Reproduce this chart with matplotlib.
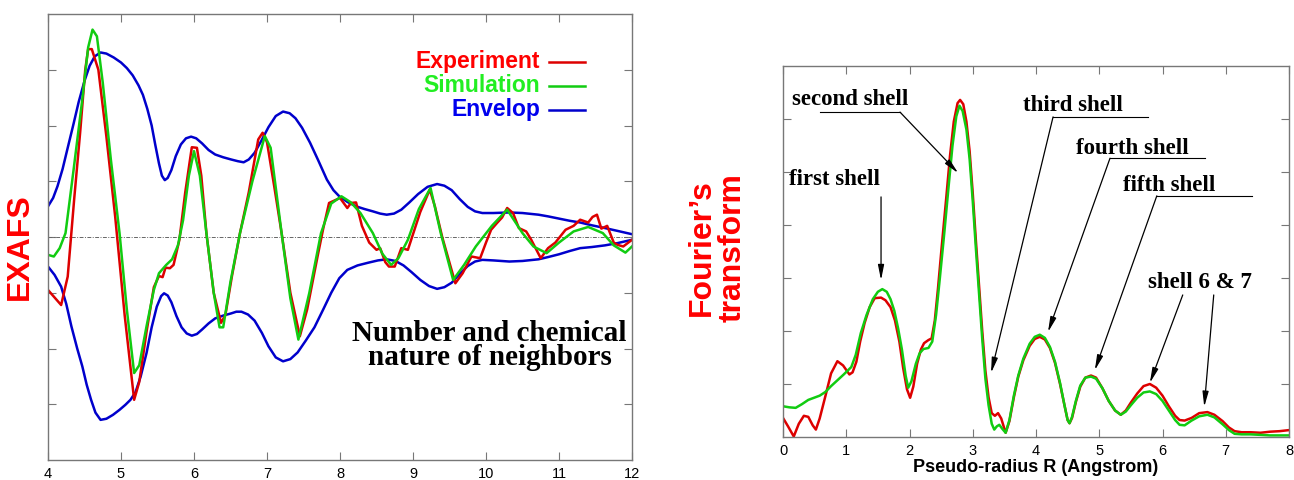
import numpy as np
import matplotlib.pyplot as plt

plt.rcParams.update({
    "font.family": "Liberation Sans",
    "xtick.labelsize": 10.5,
    "ytick.labelsize": 10.5,
})

# --- Left panel: EXAFS oscillations (k, arbitrary units) ---
exp_k = [4.00, 4.10, 4.18, 4.27, 4.36, 4.44, 4.51, 4.55, 4.60, 4.69, 4.80, 4.92, 5.05, 5.18,
         5.25, 5.35, 5.45, 5.52, 5.57, 5.61, 5.67, 5.72, 5.80, 5.88, 5.97, 6.04, 6.10, 6.17,
         6.27, 6.37, 6.43, 6.52, 6.63, 6.75, 6.88, 6.94, 7.00, 7.10, 7.20, 7.32, 7.45, 7.55,
         7.70, 7.77, 7.85, 8.00, 8.10, 8.15, 8.22, 8.30, 8.40, 8.50, 8.55, 8.62, 8.67, 8.75,
         8.84, 8.93, 9.02, 9.10, 9.23, 9.30, 9.40, 9.58, 9.68, 9.80, 9.92, 10.00, 10.07,
         10.15, 10.22, 10.29, 10.37, 10.45, 10.55, 10.62, 10.75, 10.85, 10.95, 11.09, 11.20,
         11.29, 11.40, 11.46, 11.52, 11.58, 11.66, 11.75, 11.80, 11.88, 12.00]
exp_chi = [-0.95, -1.10, -1.22, -0.71, 0.70, 1.87, 3.00, 3.37, 3.37, 3.00, 1.80, 0.37, -1.40,
           -2.92, -2.60, -1.70, -0.90, -0.70, -0.72, -0.55, -0.56, -0.50, -0.05, 0.80, 1.61,
           1.60, 1.10, 0.07, -1.00, -1.54, -1.40, -0.70, 0.07, 0.80, 1.75, 1.87, 1.70, 0.90,
           0.07, -1.00, -1.78, -1.30, -0.30, 0.15, 0.61, 0.70, 0.52, 0.61, 0.62, 0.20, -0.10,
           -0.23, -0.20, -0.45, -0.53, -0.53, -0.20, -0.23, 0.13, 0.45, 0.85, 0.55, 0.00,
           -0.83, -0.65, -0.35, -0.38, -0.10, 0.13, 0.25, 0.35, 0.52, 0.43, 0.16, 0.10, -0.05,
           -0.38, -0.20, -0.10, 0.13, 0.20, 0.31, 0.26, 0.36, 0.40, 0.15, 0.20, -0.10, -0.14,
           -0.17, -0.05]

sim_k = [4.00, 4.08, 4.16, 4.24, 4.35, 4.47, 4.55, 4.61, 4.67, 4.75, 4.86, 4.98, 5.08, 5.18,
         5.25, 5.35, 5.45, 5.52, 5.62, 5.70, 5.78, 5.85, 5.93, 6.00, 6.08, 6.17, 6.27, 6.35,
         6.40, 6.50, 6.63, 6.80, 6.97, 7.05, 7.20, 7.32, 7.43, 7.58, 7.74, 7.88, 8.02, 8.15,
         8.28, 8.45, 8.58, 8.70, 8.80, 8.93, 9.08, 9.24, 9.38, 9.55, 9.70, 9.86, 10.08, 10.29,
         10.50, 10.65, 10.83, 11.00, 11.20, 11.40, 11.60, 11.75, 11.91, 12.00]
sim_chi = [-0.32, -0.35, -0.20, 0.07, 1.20, 2.47, 3.40, 3.72, 3.60, 2.77, 1.40, 0.07, -1.30,
           -2.44, -2.30, -1.60, -0.95, -0.65, -0.50, -0.40, -0.15, 0.30, 1.10, 1.54, 1.10,
           0.07, -1.00, -1.62, -1.62, -0.80, 0.07, 1.00, 1.81, 1.60, 0.07, -1.10, -1.84,
           -1.00, 0.07, 0.60, 0.73, 0.62, 0.43, 0.07, -0.30, -0.50, -0.38, -0.05, 0.50, 0.88,
           0.07, -0.77, -0.50, -0.17, 0.20, 0.49, 0.07, -0.17, -0.29, -0.10, 0.10, 0.18, 0.07,
           -0.15, -0.28, -0.17]

env_hi_k = [4.00, 4.07, 4.13, 4.20, 4.27, 4.35, 4.42, 4.50, 4.57, 4.64, 4.72, 4.80, 4.90,
            5.00, 5.08, 5.16, 5.24, 5.30, 5.36, 5.42, 5.47, 5.52, 5.56, 5.60, 5.64, 5.69,
            5.75, 5.82, 5.89, 5.96, 6.03, 6.11, 6.20, 6.29, 6.40, 6.51, 6.60, 6.68, 6.75,
            6.83, 6.92, 7.02, 7.12, 7.22, 7.31, 7.39, 7.48, 7.59, 7.70, 7.82, 7.91, 7.99,
            8.10, 8.22, 8.34, 8.45, 8.55, 8.64, 8.74, 8.84, 8.95, 9.07, 9.20, 9.33, 9.43,
            9.53, 9.64, 9.75, 9.85, 9.95, 10.10, 10.32, 10.50, 10.72, 10.85, 11.00, 11.15,
            11.29, 11.45, 11.63, 11.80, 12.00]
env_hi = [0.55, 0.70, 0.91, 1.22, 1.60, 2.03, 2.42, 2.80, 3.07, 3.24, 3.31, 3.29, 3.22,
          3.13, 3.03, 2.90, 2.72, 2.55, 2.30, 2.00, 1.65, 1.32, 1.10, 1.02, 1.06, 1.20,
          1.45, 1.66, 1.77, 1.80, 1.77, 1.68, 1.56, 1.48, 1.43, 1.39, 1.36, 1.34, 1.39,
          1.51, 1.72, 1.97, 2.17, 2.25, 2.22, 2.13, 1.96, 1.69, 1.38, 1.03, 0.84, 0.73,
          0.63, 0.55, 0.50, 0.46, 0.42, 0.40, 0.42, 0.49, 0.62, 0.77, 0.90, 0.95, 0.92,
          0.84, 0.68, 0.54, 0.46, 0.43, 0.43, 0.44, 0.43, 0.40, 0.37, 0.33, 0.29,
          0.26, 0.21, 0.16, 0.11, 0.05]

env_lo_k = [4.00, 4.09, 4.18, 4.25, 4.32, 4.40, 4.47, 4.53, 4.59, 4.65, 4.72, 4.80, 4.89,
            4.98, 5.06, 5.13, 5.20, 5.27, 5.35, 5.42, 5.49, 5.55, 5.59, 5.64, 5.69, 5.76,
            5.83, 5.90, 5.97, 6.04, 6.11, 6.20, 6.29, 6.40, 6.51, 6.58, 6.65, 6.74, 6.83,
            6.93, 7.02, 7.12, 7.22, 7.32, 7.42, 7.53, 7.65, 7.77, 7.88, 7.99, 8.10, 8.24,
            8.39, 8.52, 8.64, 8.76, 8.87, 8.98, 9.10, 9.22, 9.33, 9.43, 9.53, 9.64, 9.75,
            9.85, 9.95, 10.10, 10.32, 10.50, 10.72, 10.85, 11.00, 11.15, 11.29, 11.45,
            11.63, 11.80, 12.00]
env_lo = [-0.53, -0.68, -0.89, -1.20, -1.60, -2.00, -2.32, -2.65, -2.92, -3.15, -3.28,
          -3.26, -3.19, -3.10, -3.01, -2.92, -2.78, -2.50, -2.08, -1.62, -1.25, -1.06,
          -1.01, -1.05, -1.17, -1.42, -1.62, -1.73, -1.77, -1.74, -1.66, -1.55, -1.46,
          -1.41, -1.37, -1.34, -1.34, -1.39, -1.50, -1.72, -1.96, -2.16, -2.23, -2.19,
          -2.07, -1.86, -1.62, -1.30, -1.00, -0.74, -0.59, -0.51, -0.46, -0.42, -0.40,
          -0.43, -0.51, -0.63, -0.77, -0.88, -0.93, -0.90, -0.82, -0.66, -0.52, -0.44,
          -0.41, -0.42, -0.44, -0.43, -0.40, -0.36, -0.31, -0.25, -0.20, -0.18, -0.15,
          -0.11, -0.05]

# --- Right panel: Fourier transform magnitude ---
ft_exp_r = [0.00, 0.08, 0.17, 0.25, 0.33, 0.40, 0.47, 0.52, 0.58, 0.67, 0.76, 0.86, 0.95,
            1.05, 1.10, 1.16, 1.22, 1.29, 1.37, 1.45, 1.55, 1.62, 1.70, 1.77, 1.84, 1.90,
            1.96, 2.01, 2.06, 2.12, 2.18, 2.23, 2.30, 2.35, 2.40, 2.45, 2.51, 2.58, 2.64,
            2.70, 2.76, 2.80, 2.85, 2.90, 2.95, 3.00, 3.05, 3.10, 3.15, 3.20, 3.25, 3.30,
            3.35, 3.40, 3.45, 3.52, 3.58, 3.65, 3.72, 3.80, 3.90, 3.98, 4.06, 4.14, 4.22,
            4.30, 4.38, 4.45, 4.50, 4.53, 4.57, 4.63, 4.70, 4.78, 4.87, 4.95, 5.05, 5.15,
            5.25, 5.34, 5.42, 5.50, 5.60, 5.70, 5.80, 5.90, 6.00, 6.10, 6.20, 6.27, 6.35,
            6.46, 6.58, 6.71, 6.82, 6.95, 7.05, 7.14, 7.25, 7.39, 7.55, 7.70, 7.85, 8.00]
ft_exp = [0.36, 0.20, 0.01, 0.25, 0.40, 0.38, 0.22, 0.14, 0.35, 0.77, 1.20, 1.43, 1.35,
          1.18, 1.22, 1.42, 1.80, 2.15, 2.45, 2.62, 2.63, 2.58, 2.45, 2.20, 1.80, 1.30,
          0.90, 0.74, 0.95, 1.38, 1.65, 1.77, 1.83, 1.86, 2.20, 2.80, 3.60, 4.50, 5.30,
          5.95, 6.30, 6.36, 6.28, 5.95, 5.40, 4.60, 3.70, 2.85, 2.00, 1.25, 0.75, 0.45,
          0.40, 0.45, 0.35, 0.08, 0.30, 0.75, 1.14, 1.45, 1.72, 1.85, 1.89, 1.84, 1.68,
          1.40, 1.00, 0.60, 0.32, 0.26, 0.36, 0.66, 0.95, 1.12, 1.16, 1.12, 0.92, 0.68,
          0.50, 0.42, 0.50, 0.65, 0.82, 0.96, 1.00, 0.93, 0.78, 0.58, 0.40, 0.32, 0.31,
          0.36, 0.45, 0.47, 0.42, 0.30, 0.18, 0.11, 0.09, 0.09, 0.08, 0.10, 0.11, 0.13]

ft_sim_r = [0.00, 0.10, 0.20, 0.30, 0.40, 0.49, 0.58, 0.67, 0.76, 0.86, 0.96, 1.08, 1.15,
            1.23, 1.32, 1.42, 1.50, 1.57, 1.64, 1.70, 1.76, 1.82, 1.88, 1.94, 1.98, 2.03,
            2.10, 2.16, 2.22, 2.30, 2.36, 2.42, 2.48, 2.55, 2.62, 2.68, 2.74, 2.79, 2.84,
            2.90, 2.95, 3.00, 3.05, 3.10, 3.15, 3.20, 3.25, 3.30, 3.34, 3.38, 3.42, 3.47,
            3.52, 3.58, 3.65, 3.72, 3.80, 3.90, 3.98, 4.06, 4.14, 4.22, 4.30, 4.38, 4.45,
            4.50, 4.53, 4.57, 4.63, 4.70, 4.78, 4.87, 4.95, 5.05, 5.15, 5.25, 5.34, 5.42,
            5.50, 5.60, 5.70, 5.80, 5.90, 6.00, 6.10, 6.20, 6.27, 6.35, 6.46, 6.58, 6.71,
            6.82, 6.95, 7.05, 7.14, 7.25, 7.39, 7.55, 7.70, 8.00]
ft_sim = [0.58, 0.56, 0.55, 0.62, 0.70, 0.74, 0.78, 0.85, 0.96, 1.07, 1.18, 1.32, 1.55,
          1.96, 2.30, 2.60, 2.74, 2.79, 2.74, 2.60, 2.38, 2.05, 1.65, 1.15, 0.93, 1.05,
          1.38, 1.58, 1.66, 1.68, 1.80, 2.30, 3.00, 3.85, 4.75, 5.50, 6.05, 6.25, 6.15,
          5.80, 5.25, 4.45, 3.55, 2.70, 1.85, 1.10, 0.60, 0.25, 0.14, 0.20, 0.23, 0.15,
          0.08, 0.32, 0.78, 1.16, 1.48, 1.76, 1.89, 1.93, 1.87, 1.70, 1.42, 1.02, 0.60,
          0.32, 0.26, 0.38, 0.68, 0.97, 1.12, 1.14, 1.10, 0.92, 0.68, 0.50, 0.42, 0.48,
          0.60, 0.74, 0.84, 0.86, 0.81, 0.68, 0.50, 0.32, 0.23, 0.22, 0.31, 0.39, 0.42,
          0.37, 0.24, 0.13, 0.06, 0.05, 0.05, 0.04, 0.03, 0.03]

RED, GREEN, BLUE = "#dd0000", "#11cc11", "#0000cc"
SPINE = "#777777"

fig = plt.figure(figsize=(12.94, 4.8), dpi=100)


def gnuplot_frame(ax):
    for s in ax.spines.values():
        s.set_color(SPINE)
        s.set_linewidth(1.0)
    ax.tick_params(direction="in", length=6, width=0.8, color=SPINE,
                   top=True, right=True, pad=5)


# ── Left panel ───────────────────────────────────────────────
ax1 = fig.add_axes([48 / 1294, 20 / 480, 584 / 1294, 446 / 480])
ax1.axhline(0, color="#666666", lw=0.7, ls=(0, (4, 1.5, 1, 1.5)))
ax1.plot(env_hi_k, env_hi, color=BLUE, lw=1.8)
ax1.plot(env_lo_k, env_lo, color=BLUE, lw=1.8)
ax1.plot(exp_k, exp_chi, color=RED, lw=1.8)
ax1.plot(sim_k, sim_chi, color=GREEN, lw=1.8)
ax1.set_xlim(4, 12)
ax1.set_ylim(-4, 4)
ax1.set_xticks(range(4, 13))
ax1.set_yticks(range(-3, 4))
ax1.set_yticklabels([])
gnuplot_frame(ax1)

# hand-made legend, gnuplot style
for i, (lab, col, lcol) in enumerate([("Experiment", "#ff0000", RED),
                                      ("Simulation", "#22ee22", GREEN),
                                      ("Envelop", "#0000ee", BLUE)]):
    yy = 3.14 - i * 0.43
    ax1.text(10.74, yy, lab, color=col, fontsize=16.5, fontweight="bold",
             ha="right", va="center")
    ax1.plot([10.86, 11.36], [yy, yy], color=lcol, lw=1.8)

ax1.text(10.05, -1.94, "Number and chemical\nnature of neighbors",
         family="Liberation Serif", fontweight="bold", fontsize=21,
         ha="center", va="center", linespacing=0.85)

fig.text(20 / 1294, 1 - 247 / 480, "EXAFS", color="#ff0000", fontsize=23,
         fontweight="bold", rotation=90, ha="center", va="center")

# ── Right panel ──────────────────────────────────────────────
ax2 = fig.add_axes([783 / 1294, 43 / 480, 506 / 1294, 371 / 480])
ax2.plot(ft_exp_r, ft_exp, color=RED, lw=1.8)
ax2.plot(ft_sim_r, ft_sim, color=GREEN, lw=1.8)
ax2.set_xlim(0, 8)
ax2.set_ylim(0, 7)
ax2.set_xticks(range(0, 9))
ax2.set_yticks(range(1, 7))
ax2.set_yticklabels([])
gnuplot_frame(ax2)
ax2.set_xlabel("Pseudo-radius R (Angstrom)", fontsize=13, fontweight="bold",
               labelpad=1)

ann_font = dict(family="Liberation Serif", fontweight="bold", fontsize=16.5,
                ha="center", va="center")
arrow = dict(arrowstyle="-|>,head_length=0.9,head_width=0.18", color="black",
             lw=0.9, shrinkA=0, shrinkB=0)

# (label, text x, text y, underline x0, x1, underline y, arrow start x, arrow tip)
shells = [
    ("second shell", 1.06, 6.36, 0.585, 1.85, 6.13, 1.85, (2.77, 4.98)),
    ("third shell", 4.58, 6.26, 4.27, 5.77, 6.04, 4.27, (3.29, 1.21)),
    ("fourth shell", 5.52, 5.45, 5.17, 6.67, 5.26, 5.17, (4.19, 1.98)),
    ("fifth shell", 6.10, 4.75, 5.91, 7.42, 4.55, 5.91, (4.93, 1.26)),
]
for lab, tx, ty, u0, u1, uy, ax0, tip in shells:
    ax2.text(tx, ty, lab, **ann_font)
    ax2.plot([u0, u1], [uy, uy], color="black", lw=0.8)
    ax2.annotate("", xy=tip, xytext=(ax0, uy), arrowprops=arrow)

ax2.text(0.81, 4.85, "first shell", **ann_font)
ax2.annotate("", xy=(1.55, 2.96), xytext=(1.55, 4.53), arrowprops=arrow)

ax2.text(6.59, 2.91, "shell 6 & 7", **ann_font)
ax2.annotate("", xy=(5.80, 1.02), xytext=(6.32, 2.68), arrowprops=arrow)
ax2.annotate("", xy=(6.66, 0.57), xytext=(6.81, 2.68), arrowprops=arrow)

fig.text(717 / 1294, 1 - 248 / 480, "Fourier\u2019s\ntransform", color="#ff0000",
         fontsize=23, fontweight="bold", rotation=90, ha="center", va="center",
         linespacing=1.05)

fig.savefig("out.png", dpi=100)
